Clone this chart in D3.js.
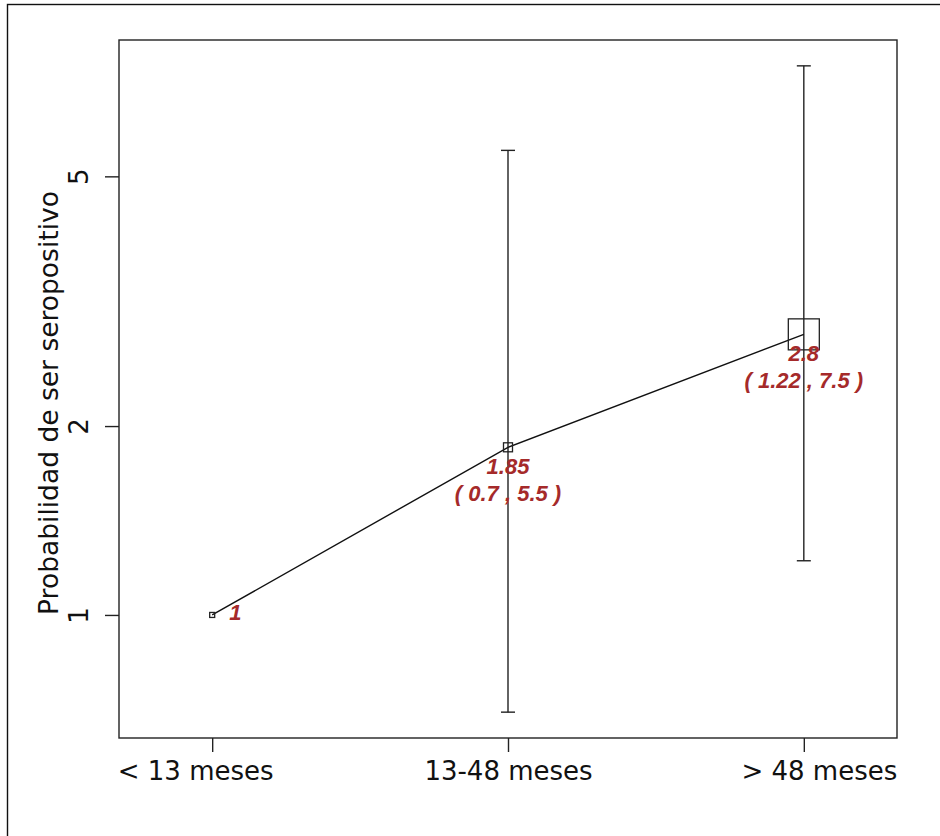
<!DOCTYPE html>
<html>
<head>
<meta charset="utf-8">
<script src="https://cdn.jsdelivr.net/npm/d3@7"></script>
<style>
  html, body { margin: 0; padding: 0; background: #fff; }
  svg { display: block; }
</style>
</head>
<body>
<svg id="chart" width="940" height="836"></svg>
<script>
// Age groups and odds of being seropositive, with confidence limits
const categories = ["< 13 meses", "13-48 meses", "> 48 meses"];
const estimates  = [1, 1.85, 2.8];
const lower      = [null, 0.7, 1.22];
const upper      = [null, 5.5, 7.5];
const yTicks     = [1, 2, 5];
const yLabel     = "Probabilidad de ser seropositivo";

// Square marker side length per group
const markerSides = [5, 9, 31];
// Horizontal nudge of the category labels (px)
const labelShift = [-17, 0, 15];

const W = 940, H = 836;
const plot = { left: 119, right: 897, top: 40, bottom: 738 };
const red = "#a52a2a";

const svg = d3.select("#chart");

// outer frame
svg.append("rect")
  .attr("x", 7.5).attr("y", 4.5)
  .attr("width", W).attr("height", H)
  .attr("fill", "none").attr("stroke", "#111").attr("stroke-width", 1.4);

// log y range padded by 4% on each side of the interval limits
const lo = Math.log10(d3.min(lower.filter(v => v != null))),
      hi = Math.log10(d3.max(upper.filter(v => v != null)));
const pad = (hi - lo) * 0.04;
const y = d3.scaleLog()
  .domain([Math.pow(10, lo - pad), Math.pow(10, hi + pad)])
  .range([plot.bottom, plot.top]);

const x = d3.scaleLinear()
  .domain([0.685, categories.length + 0.315])
  .range([plot.left, plot.right]);
const xi = i => x(i + 1);

// plot box
svg.append("rect")
  .attr("x", plot.left).attr("y", plot.top)
  .attr("width", plot.right - plot.left).attr("height", plot.bottom - plot.top)
  .attr("fill", "none").attr("stroke", "#222").attr("stroke-width", 1.4);

// x axis
const xAxis = d3.axisBottom(x)
  .tickValues(categories.map((c, i) => i + 1))
  .tickFormat(d => categories[d - 1])
  .tickSize(14).tickSizeOuter(0).tickPadding(9.5);
const gx = svg.append("g")
  .attr("transform", `translate(0,${plot.bottom})`)
  .call(xAxis);
gx.select(".domain").remove();
gx.selectAll("line").attr("stroke", "#222").attr("stroke-width", 1.4);
gx.selectAll("text")
  .attr("dx", (d) => labelShift[d - 1])
  .attr("fill", "#111")
  .style("font-family", "'DejaVu Sans', sans-serif")
  .style("font-size", "26px");

// y axis with rotated labels
const yAxis = d3.axisLeft(y)
  .tickValues(yTicks)
  .tickFormat(d3.format("d"))
  .tickSize(14).tickSizeOuter(0);
const gy = svg.append("g")
  .attr("transform", `translate(${plot.left},0)`)
  .call(yAxis);
gy.select(".domain").remove();
gy.selectAll("line").attr("stroke", "#222").attr("stroke-width", 1.4);
gy.selectAll("text")
  .attr("x", null).attr("dy", null)
  .attr("transform", "translate(-31,0) rotate(-90)")
  .attr("text-anchor", "middle")
  .attr("fill", "#111")
  .style("font-family", "'DejaVu Sans', sans-serif")
  .style("font-size", "26px");

// y axis title
svg.append("text")
  .attr("transform", `translate(58,${(plot.top + plot.bottom) / 2 + 14}) rotate(-90)`)
  .attr("text-anchor", "middle")
  .attr("fill", "#111")
  .style("font-family", "'DejaVu Sans', sans-serif")
  .style("font-size", "26.5px")
  .text(yLabel);

// error bars
const capHalf = 7;
const bars = svg.append("g").attr("stroke", "#222").attr("stroke-width", 1.4);
categories.forEach((c, i) => {
  if (lower[i] == null) return;
  const cx = xi(i);
  bars.append("line").attr("x1", cx).attr("x2", cx)
    .attr("y1", y(upper[i])).attr("y2", y(lower[i]));
  [lower[i], upper[i]].forEach(v => {
    bars.append("line").attr("x1", cx - capHalf).attr("x2", cx + capHalf)
      .attr("y1", y(v)).attr("y2", y(v));
  });
});

// connecting line through the estimates
const line = d3.line().x((d, i) => xi(i)).y(d => y(d));
svg.append("path")
  .datum(estimates)
  .attr("d", line)
  .attr("fill", "none").attr("stroke", "#111").attr("stroke-width", 1.4);

// square markers
svg.append("g").selectAll("rect")
  .data(estimates)
  .join("rect")
  .attr("x", (d, i) => xi(i) - markerSides[i] / 2)
  .attr("y", (d, i) => y(d) - markerSides[i] / 2)
  .attr("width", (d, i) => markerSides[i])
  .attr("height", (d, i) => markerSides[i])
  .attr("fill", "none").attr("stroke", "#222").attr("stroke-width", 1.3);

// value labels
const lab = svg.append("g")
  .attr("fill", red)
  .style("font-family", "'Liberation Sans', Arial, sans-serif")
  .style("font-size", "22px")
  .style("font-weight", "bold")
  .style("font-style", "italic");

categories.forEach((c, i) => {
  const cx = xi(i), cy = y(estimates[i]);
  if (lower[i] == null) {
    lab.append("text")
      .attr("x", cx + 17).attr("y", cy + 5)
      .text(estimates[i]);
  } else {
    lab.append("text")
      .attr("x", cx).attr("y", cy + 27)
      .attr("text-anchor", "middle")
      .text(estimates[i]);
    lab.append("text")
      .attr("x", cx).attr("y", cy + 54)
      .attr("text-anchor", "middle")
      .text(`( ${lower[i]} , ${upper[i]} )`);
  }
});
</script>
</body>
</html>
